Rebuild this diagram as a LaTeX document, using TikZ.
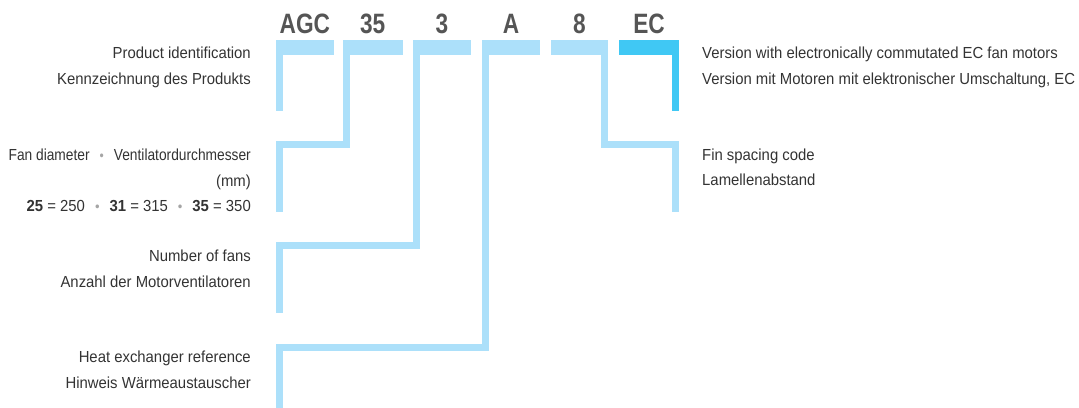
\documentclass[tikz,border=0pt]{standalone}
\usepackage{fontspec}
\setmainfont[FakeStretch=0.93]{Liberation Sans}
\newfontfamily\codefont[FakeStretch=0.81]{Liberation Sans Bold}
\newfontfamily\narrowfont[FakeStretch=0.86]{Liberation Sans}
\usepackage{tikz}
\usetikzlibrary{positioning}
\definecolor{barblue}{RGB}{172,224,250}
\definecolor{ecblue}{RGB}{64,200,244}
\definecolor{codegray}{RGB}{85,85,85}
\definecolor{labelgray}{RGB}{51,51,51}
\definecolor{dotgray}{RGB}{165,165,165}
\newcommand{\gdot}{\hspace{10pt}{\color{dotgray}\fontsize{14}{14}\selectfont•}\hspace{10pt}}
\begin{document}
\begin{tikzpicture}[x=1pt,y=-1pt,
 leg/.style={line width=7pt,draw=barblue,line join=miter},
 codetxt/.style={font=\codefont\fontsize{28}{28}\selectfont,text=codegray,inner sep=0pt,anchor=base},
 lbl/.style={font=\fontsize{16}{25.5}\selectfont,text=labelgray,inner sep=0pt}]
\useasboundingbox (0,0) rectangle (1079,407);
\foreach \name/\code/\xl/\xr in {agc/AGC/276/333.7,dia/35/342.7/402.7,num/3/413/471,hx/A/482/540,fin/8/551/608} {
 \fill[barblue] (\xl,40) rectangle (\xr,55.3);
 \coordinate (\name-l) at (\xl+3.5,50);
 \coordinate (\name-r) at (\xr-3.5,50);
 \node[codetxt] (\name) at ({(\xl+\xr)/2},33.3) {\code};
}
\fill[ecblue] (619,40) rectangle (679,55.3);
\coordinate (ec-r) at (675.5,50);
\node[codetxt] (ec) at (649,33.3) {EC};
\draw[leg] (agc-l) -- ++(0,60.7);
\draw[leg] (dia-l) |- (279.3,144.5) -- (279.3,211.7);
\draw[leg] (num-l) |- (279.3,245.5) -- (279.3,312.7);
\draw[leg] (hx-l) |- (279.3,347.3) -- (279.3,410);
\draw[leg] (fin-r) |- (675.5,144.5) -- (675.5,211.7);
\draw[leg,draw=ecblue] (ec-r) -- ++(0,60.7);
\node[lbl,align=right,anchor=base east] (prod) at (251,84.3) {Product identification\\Kennzeichnung des Produkts};
\node[lbl,align=right,anchor=base east] (diam) at (251,211.7) {{\narrowfont Fan diameter\gdot Ventilatordurchmesser}\\(mm)\\\textbf{25} = 250\gdot\textbf{31} = 315\gdot\textbf{35} = 350};
\node[lbl,align=right,anchor=base east] (fans) at (251,287.3) {Number of fans\\Anzahl der Motorventilatoren};
\node[lbl,align=right,anchor=base east] (heat) at (251,388.3) {Heat exchanger reference\\Hinweis Wärmeaustauscher};
\node[lbl,align=left,anchor=base west] (vers) at (702,84.3) {Version with electronically commutated EC fan motors\\Version mit Motoren mit elektronischer Umschaltung, EC};
\node[lbl,align=left,anchor=base west] (spac) at (702,185.7) {Fin spacing code\\Lamellenabstand};
\end{tikzpicture}
\end{document}
